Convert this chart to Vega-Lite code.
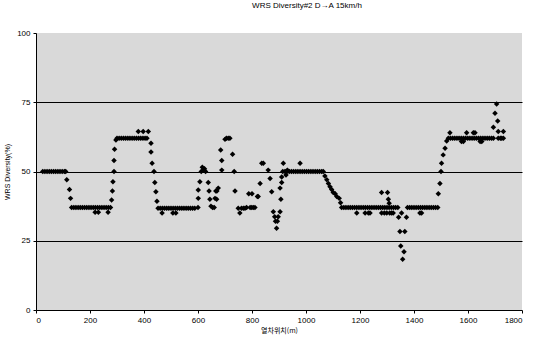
{
  "$schema": "https://vega.github.io/schema/vega-lite/v6.json",
  "width": 486,
  "height": 277,
  "autosize": "none",
  "padding": {"left": 36, "top": 33, "right": 13, "bottom": 30},
  "background": "white",
  "title": {"text": "WRS Diversity#2 D→A 15km/h", "fontSize": 8, "font": "Liberation Sans", "fontWeight": "normal", "color": "black", "anchor": "middle", "dx": 28, "offset": 19},
  "config": {
    "view": {"fill": "#d9d9d9", "stroke": null},
    "axis": {"labelFont": "Liberation Sans", "titleFont": "Liberation Sans", "labelFontSize": 8, "titleFontSize": 7, "titleFontWeight": "normal", "labelColor": "black", "titleColor": "black", "domainColor": "black", "tickColor": "black", "tickSize": 3}
  },
  "data": {"values": [
    {"pos":25,"div":50},{"pos":33,"div":50},{"pos":41,"div":50},{"pos":49,"div":50},{"pos":57,"div":50},{"pos":65,"div":50},{"pos":73,"div":50},{"pos":81,"div":50},{"pos":89,"div":50},{"pos":97,"div":50},{"pos":105,"div":50},{"pos":110,"div":50},
    {"pos":114,"div":47},{"pos":124,"div":43.5},{"pos":128,"div":40.3},
    {"pos":132,"div":37},{"pos":140,"div":37},{"pos":148,"div":37},{"pos":156,"div":37},{"pos":164,"div":37},{"pos":172,"div":37},{"pos":180,"div":37},{"pos":188,"div":37},{"pos":196,"div":37},{"pos":204,"div":37},{"pos":212,"div":37},{"pos":220,"div":37},{"pos":228,"div":37},{"pos":236,"div":37},{"pos":244,"div":37},{"pos":252,"div":37},{"pos":260,"div":37},{"pos":268,"div":37},{"pos":276,"div":37},
    {"pos":219,"div":35.3},{"pos":231,"div":35.3},{"pos":267,"div":35.3},
    {"pos":280,"div":39.7},{"pos":283,"div":43},{"pos":285,"div":46.3},{"pos":289,"div":50},{"pos":289,"div":54},{"pos":291,"div":58},{"pos":296,"div":61.4},
    {"pos":300,"div":62},{"pos":308,"div":62},{"pos":316,"div":62},{"pos":324,"div":62},{"pos":332,"div":62},{"pos":340,"div":62},{"pos":348,"div":62},{"pos":356,"div":62},{"pos":364,"div":62},{"pos":372,"div":62},{"pos":380,"div":62},{"pos":388,"div":62},{"pos":396,"div":62},{"pos":404,"div":62},{"pos":411,"div":62},
    {"pos":379,"div":64.4},{"pos":397,"div":64.4},{"pos":416,"div":64.4},
    {"pos":426,"div":60.2},{"pos":426,"div":57},{"pos":430,"div":53},{"pos":437,"div":50},{"pos":440,"div":46},{"pos":444,"div":42.7},{"pos":448,"div":39.3},
    {"pos":452,"div":36.7},{"pos":460,"div":36.7},{"pos":468,"div":36.7},{"pos":476,"div":36.7},{"pos":484,"div":36.7},{"pos":492,"div":36.7},{"pos":500,"div":36.7},{"pos":508,"div":36.7},{"pos":516,"div":36.7},{"pos":524,"div":36.7},{"pos":532,"div":36.7},{"pos":540,"div":36.7},{"pos":548,"div":36.7},{"pos":556,"div":36.7},{"pos":564,"div":36.7},{"pos":572,"div":36.7},{"pos":580,"div":36.7},{"pos":588,"div":36.7},
    {"pos":467,"div":35},{"pos":507,"div":35},{"pos":518,"div":35},
    {"pos":600,"div":37},{"pos":601,"div":40.3},{"pos":601,"div":43.3},{"pos":607,"div":46.3},{"pos":612,"div":50},{"pos":616,"div":51.5},{"pos":620,"div":50.5},{"pos":624,"div":51},{"pos":628,"div":50},{"pos":638,"div":46},{"pos":641,"div":43},{"pos":644,"div":40},{"pos":648,"div":37.5},{"pos":654,"div":37},{"pos":660,"div":37},{"pos":663,"div":40.3},{"pos":666,"div":43},{"pos":670,"div":43},{"pos":669,"div":40},{"pos":675,"div":44},{"pos":684,"div":57.8},{"pos":688,"div":50.5},{"pos":688,"div":54},{"pos":700,"div":61.6},{"pos":705,"div":62},{"pos":712,"div":62},{"pos":718,"div":62},
    {"pos":728,"div":56.2},{"pos":734,"div":50},{"pos":737,"div":43},{"pos":749,"div":36.7},{"pos":755,"div":35},{"pos":761,"div":36.7},{"pos":768,"div":36.7},{"pos":774,"div":36.7},{"pos":780,"div":37},{"pos":788,"div":42},{"pos":793,"div":37},{"pos":799,"div":37},{"pos":800,"div":42},{"pos":805,"div":37},{"pos":811,"div":37},{"pos":820,"div":41},{"pos":823,"div":41},{"pos":830,"div":45.7},{"pos":836,"div":53},{"pos":842,"div":53},{"pos":860,"div":50.5},{"pos":867,"div":47.5},{"pos":873,"div":42.7},
    {"pos":879,"div":35.5},{"pos":884,"div":33.7},{"pos":887,"div":32},{"pos":891,"div":29.5},{"pos":894,"div":32},{"pos":897,"div":33.7},{"pos":904,"div":35.5},{"pos":904,"div":44},{"pos":907,"div":40},{"pos":910,"div":46},{"pos":910,"div":48},{"pos":916,"div":53},{"pos":926,"div":48.7},{"pos":931,"div":50.5},
    {"pos":914,"div":50},{"pos":922,"div":50},{"pos":930,"div":50},{"pos":938,"div":50},{"pos":946,"div":50},{"pos":954,"div":50},{"pos":962,"div":50},{"pos":970,"div":50},{"pos":978,"div":50},{"pos":986,"div":50},{"pos":994,"div":50},{"pos":1002,"div":50},{"pos":1010,"div":50},{"pos":1018,"div":50},{"pos":1026,"div":50},{"pos":1034,"div":50},{"pos":1042,"div":50},{"pos":1050,"div":50},{"pos":1058,"div":50},{"pos":1064,"div":50},
    {"pos":978,"div":53},
    {"pos":1070,"div":48.4},{"pos":1077,"div":47},{"pos":1083,"div":45.7},{"pos":1089,"div":44.5},{"pos":1095,"div":43.5},{"pos":1101,"div":42.4},{"pos":1108,"div":42},{"pos":1114,"div":41},{"pos":1123,"div":40.3},{"pos":1128,"div":38.7},
    {"pos":1132,"div":37},{"pos":1140,"div":37},{"pos":1148,"div":37},{"pos":1156,"div":37},{"pos":1164,"div":37},{"pos":1172,"div":37},{"pos":1180,"div":37},{"pos":1188,"div":37},{"pos":1196,"div":37},{"pos":1204,"div":37},{"pos":1212,"div":37},{"pos":1220,"div":37},{"pos":1228,"div":37},{"pos":1236,"div":37},{"pos":1244,"div":37},{"pos":1252,"div":37},{"pos":1260,"div":37},{"pos":1268,"div":37},{"pos":1276,"div":37},{"pos":1284,"div":37},{"pos":1292,"div":37},{"pos":1300,"div":37},{"pos":1308,"div":37},{"pos":1316,"div":37},{"pos":1324,"div":37},{"pos":1332,"div":37},{"pos":1340,"div":37},
    {"pos":1376,"div":37},{"pos":1384,"div":37},{"pos":1392,"div":37},{"pos":1400,"div":37},{"pos":1408,"div":37},{"pos":1416,"div":37},{"pos":1424,"div":37},{"pos":1432,"div":37},{"pos":1440,"div":37},{"pos":1448,"div":37},{"pos":1456,"div":37},{"pos":1464,"div":37},{"pos":1472,"div":37},{"pos":1480,"div":37},{"pos":1488,"div":37},
    {"pos":1188,"div":35},{"pos":1219,"div":35},{"pos":1231,"div":35},{"pos":1237,"div":35},{"pos":1280,"div":35},{"pos":1290,"div":35},{"pos":1299,"div":35},{"pos":1310,"div":35},{"pos":1317,"div":35},{"pos":1323,"div":35},{"pos":1354,"div":35},{"pos":1422,"div":35},{"pos":1428,"div":35},
    {"pos":1280,"div":42.4},{"pos":1302,"div":42.4},{"pos":1305,"div":40},{"pos":1308,"div":38.5},
    {"pos":1343,"div":33.5},{"pos":1372,"div":33.5},{"pos":1348,"div":28.3},{"pos":1366,"div":28.3},{"pos":1351,"div":23.1},{"pos":1363,"div":21},{"pos":1358,"div":18.3},
    {"pos":1490,"div":42},{"pos":1496,"div":45.7},{"pos":1500,"div":50},{"pos":1502,"div":53},{"pos":1508,"div":56},{"pos":1515,"div":58.4},{"pos":1521,"div":61},{"pos":1527,"div":62},{"pos":1533,"div":64},
    {"pos":1535,"div":62},{"pos":1543,"div":62},{"pos":1551,"div":62},{"pos":1559,"div":62},{"pos":1567,"div":62},{"pos":1575,"div":62},{"pos":1583,"div":62},{"pos":1591,"div":62},{"pos":1599,"div":62},{"pos":1607,"div":62},{"pos":1615,"div":62},{"pos":1623,"div":62},{"pos":1631,"div":62},{"pos":1639,"div":62},{"pos":1647,"div":62},{"pos":1655,"div":62},{"pos":1663,"div":62},{"pos":1671,"div":62},{"pos":1679,"div":62},{"pos":1687,"div":62},{"pos":1694,"div":62},
    {"pos":1595,"div":64},{"pos":1620,"div":64},{"pos":1626,"div":64},{"pos":1576,"div":60.8},{"pos":1583,"div":60.8},{"pos":1645,"div":60.8},{"pos":1651,"div":60.8},
    {"pos":1694,"div":66},{"pos":1700,"div":71},{"pos":1706,"div":74.4},{"pos":1710,"div":68.2},{"pos":1712,"div":64.4},{"pos":1731,"div":64.4},{"pos":1712,"div":62},{"pos":1720,"div":62},{"pos":1725,"div":62},{"pos":1731,"div":62}
  ]},
  "mark": {"type": "point", "shape": "diamond", "filled": true, "color": "black", "size": 30, "opacity": 1},
  "encoding": {
    "x": {"field": "pos", "type": "quantitative", "scale": {"domain": [0, 1800], "nice": false},
      "axis": {"title": "열차위치(m)", "values": [0,200,400,600,800,1000,1200,1400,1600,1800], "format": "d", "grid": false, "labelPadding": 3, "titlePadding": 2, "titleFont": "Noto Sans CJK KR"}},
    "y": {"field": "div", "type": "quantitative", "scale": {"domain": [0, 100], "nice": false},
      "axis": {"title": "WRS Diversity(%)", "values": [0,25,50,75,100], "grid": true, "gridColor": "black", "gridWidth": 1,
        "gridOpacity": {"condition": {"test": "datum.value === 100 || datum.value === 0", "value": 0}, "value": 1},
        "labelPadding": 3, "titlePadding": 6}}
  }
}
